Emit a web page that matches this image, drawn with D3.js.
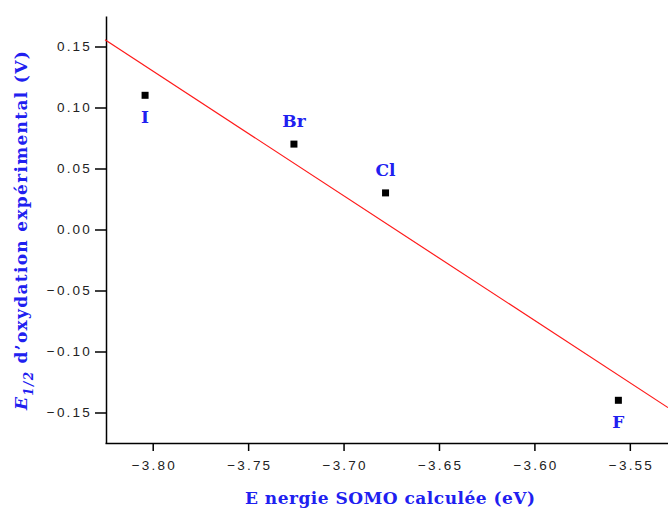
<!DOCTYPE html>
<html>
<head>
<meta charset="utf-8">
<script src="https://cdn.jsdelivr.net/npm/d3@7"></script>
<style>
  body { margin: 0; background: #fff; }
  svg { display: block; }
</style>
</head>
<body>
<svg id="chart" width="668" height="511"></svg>
<script>
// halogen points
const labels = ['I', 'Br', 'Cl', 'F']
const somo = [-3.804, -3.726, -3.678, -3.556]
const eox = [0.110, 0.070, 0.030, -0.140]
const labelSide = ['below', 'above', 'above', 'below']

// fitted line ends
const fitX = [-3.825, -3.53]
const fitY = [0.1555, -0.146]

const xTicks = [-3.80, -3.75, -3.70, -3.65, -3.60, -3.55]
const yTicks = [0.15, 0.10, 0.05, 0.00, -0.05, -0.10, -0.15]
const xMinor = [-3.825, -3.775, -3.725, -3.675, -3.625, -3.575, -3.525]
const yMinor = [0.175, 0.125, 0.075, 0.025, -0.025, -0.075, -0.125, -0.175]

const blue = '#2020f0'
const serif = 'DejaVu Serif, Liberation Serif, serif'
const sans = 'Liberation Sans, Arial, sans-serif'
const svg = d3.select('#chart')

const x = d3.scaleLinear().domain([-3.825, -3.53]).range([105, 668])
const y = d3.scaleLinear().domain([-0.175, 0.175]).range([443, 16])

// x axis
const xAxisG = svg.append('g').attr('transform', 'translate(0,443)')
xAxisG.call(d3.axisBottom(x).tickValues(xMinor).tickSize(4).tickFormat('').tickSizeOuter(0))
xAxisG.call(d3.axisBottom(x).tickValues(xTicks).tickSize(8).tickSizeOuter(0)
  .tickFormat(d3.format('.2f')))
xAxisG.selectAll('text')
  .attr('dy', 0).attr('y', 27).attr('dx', 1.1)
  .style('font-family', sans).style('letter-spacing', '2.2px')
  .style('font-size', '13.5px').attr('fill', '#222')

// y axis
const yAxisG = svg.append('g').attr('transform', 'translate(106,0)')
yAxisG.call(d3.axisLeft(y).tickValues(yMinor).tickSize(6).tickFormat('').tickSizeOuter(0))
yAxisG.call(d3.axisLeft(y).tickValues(yTicks).tickSize(11).tickSizeOuter(0)
  .tickFormat(d3.format('.2f')))
yAxisG.selectAll('text')
  .attr('x', -14)
  .style('font-family', sans).style('letter-spacing', '2.2px')
  .style('font-size', '13.5px').attr('fill', '#222')

svg.selectAll('.domain').attr('stroke', '#000').attr('stroke-width', 1.5)
svg.selectAll('.tick line').attr('stroke', '#000').attr('stroke-width', 1.5)

// fit line
svg.append('line')
  .attr('x1', x(fitX[0])).attr('y1', y(fitY[0]))
  .attr('x2', x(fitX[1])).attr('y2', y(fitY[1]))
  .attr('stroke', '#ff1a1a').attr('stroke-width', 1.2)

// points
const pts = labels.map((l, i) => ({ label: l, x: somo[i], y: eox[i], side: labelSide[i] }))
svg.selectAll('.pt').data(pts).join('rect')
  .attr('class', 'pt')
  .attr('x', d => x(d.x) - 3.5).attr('y', d => y(d.y) - 3.5)
  .attr('width', 7).attr('height', 7).attr('fill', '#000')

svg.selectAll('.lbl').data(pts).join('text')
  .attr('class', 'lbl')
  .attr('x', d => x(d.x))
  .attr('y', d => y(d.y) + (d.side === 'below' ? 28 : -17))
  .attr('text-anchor', 'middle')
  .style('font-family', serif)
  .style('font-weight', 'bold').style('font-size', '17px')
  .attr('fill', blue)
  .text(d => d.label)

// axis titles
svg.append('text')
  .attr('x', 390).attr('y', 504)
  .attr('text-anchor', 'middle')
  .attr('textLength', 290).attr('lengthAdjust', 'spacing')
  .style('font-family', serif)
  .style('font-weight', 'bold').style('font-size', '17px')
  .attr('fill', blue)
  .text('E nergie SOMO calculée (eV)')

const yt = svg.append('text')
  .attr('transform', 'translate(27,230) rotate(-90)')
  .attr('text-anchor', 'middle')
  .style('font-family', serif)
  .style('font-weight', 'bold').style('font-size', '17px')
  .attr('fill', blue)
yt.append('tspan').style('font-style', 'italic').text('E')
yt.append('tspan').attr('dy', 6).style('font-style', 'italic').style('font-size', '12px').text('1/2')
yt.append('tspan').attr('dy', -6).text(' d\u2019oxydation expérimental (V)')

// stretch the y title to the span seen in the reference
const w = yt.node().getComputedTextLength()
const nChars = yt.text().length
yt.style('letter-spacing', Math.max(0, (360 - w) / nChars) + 'px')
</script>
</body>
</html>
